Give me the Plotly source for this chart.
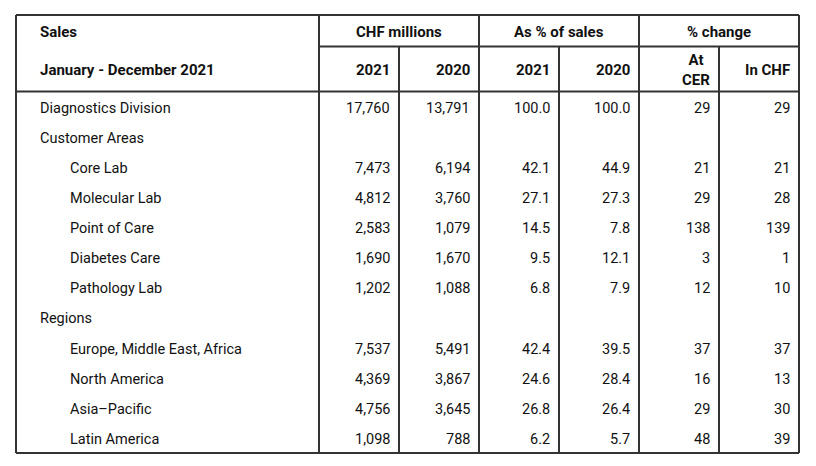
import plotly.graph_objects as go

# ---- data ----
row_labels = ["Diagnostics Division", "Customer Areas", "Core Lab", "Molecular Lab",
              "Point of Care", "Diabetes Care", "Pathology Lab", "Regions",
              "Europe, Middle East, Africa", "North America", "Asia–Pacific", "Latin America"]
row_indent = [0, 0, 1, 1, 1, 1, 1, 0, 1, 1, 1, 1]
chf_2021 = ["17,760", "", "7,473", "4,812", "2,583", "1,690", "1,202", "", "7,537", "4,369", "4,756", "1,098"]
chf_2020 = ["13,791", "", "6,194", "3,760", "1,079", "1,670", "1,088", "", "5,491", "3,867", "3,645", "788"]
pct_2021 = ["100.0", "", "42.1", "27.1", "14.5", "9.5", "6.8", "", "42.4", "24.6", "26.8", "6.2"]
pct_2020 = ["100.0", "", "44.9", "27.3", "7.8", "12.1", "7.9", "", "39.5", "28.4", "26.4", "5.7"]
chg_cer = ["29", "", "21", "29", "138", "3", "12", "", "37", "16", "29", "48"]
chg_chf = ["29", "", "21", "28", "139", "1", "10", "", "37", "13", "30", "39"]

group_headers = ["CHF millions", "As % of sales", "% change"]
sub_headers = ["2021", "2020", "2021", "2020", "At<br>CER", "In CHF"]
title_top = "Sales"
title_sub = "January - December 2021"

# ---- layout geometry (page pixel coordinates) ----
PAGE_W, PAGE_H = 816, 466
OFF = 8  # default body margin of the page
left, right, top, bottom = 16, 799, 15, 453
col_edges = [319, 399, 479, 559, 639, 719, 799]
hdr_mid = 46.5
hdr_bot = 91.5
row_h = (bottom - hdr_bot) / len(row_labels)

FONT = "Roboto, 'Noto Sans', Arial, sans-serif"
TXT = "#111111"
LINE = "#333333"

fig = go.Figure()
fig.add_trace(go.Scatter(x=[OFF, PAGE_W], y=[OFF, PAGE_H], mode="markers",
                         marker=dict(opacity=0), hoverinfo="skip", showlegend=False))

shapes = []
def line(x0, y0, x1, y1, w=2):
    shapes.append(dict(type="line", x0=x0, y0=y0, x1=x1, y1=y1,
                       line=dict(color=LINE, width=w), xref="x", yref="y"))

# outer border
line(left, top, right, top)
line(left, bottom, right, bottom)
line(left, top, left, bottom)
line(right, top, right, bottom)
# header lines
line(col_edges[0], hdr_mid, right, hdr_mid)
line(left, hdr_bot, right, hdr_bot)
# vertical lines
for i, x in enumerate(col_edges[:-1]):
    if i % 2 == 0:
        line(x, top, x, bottom)
    else:
        line(x, hdr_mid, x, bottom)

ann = []
def text(x, y, s, anchor="left", bold=False, size=14.5):
    ann.append(dict(x=x, y=y, text=f"<b>{s}</b>" if bold else s, showarrow=False,
                    xanchor=anchor, yanchor="middle", xref="x", yref="y",
                    font=dict(family=FONT, size=size, color=TXT)))

LX = 38      # label left edge (compensating annotation padding)
RPAD = 7     # right padding of numbers in each column

text(LX, 31.5, title_top, bold=True, size=15)
text(LX, 69.5, title_sub, bold=True, size=15)
for g, h in enumerate(group_headers):
    cx = (col_edges[2 * g] + col_edges[2 * g + 2]) / 2
    text(cx, 31.5, h, anchor="center", bold=True, size=15)
for c, h in enumerate(sub_headers):
    text(col_edges[c + 1] - RPAD, 69.5, h, anchor="right", bold=True, size=15)

cols = [chf_2021, chf_2020, pct_2021, pct_2020, chg_cer, chg_chf]
for r, lab in enumerate(row_labels):
    y = hdr_bot + row_h * (r + 0.5) + 1.5
    text(LX + 30 * row_indent[r], y, lab)
    for c, vals in enumerate(cols):
        if vals[r]:
            text(col_edges[c + 1] - RPAD, y, vals[r], anchor="right")

fig.update_layout(
    width=PAGE_W - OFF, height=PAGE_H - OFF, margin=dict(l=0, r=0, t=0, b=0),
    paper_bgcolor="white", plot_bgcolor="white",
    xaxis=dict(range=[OFF, PAGE_W], visible=False, fixedrange=True),
    yaxis=dict(range=[PAGE_H, OFF], visible=False, fixedrange=True),
    shapes=shapes, annotations=ann, showlegend=False,
)
fig.write_html("out.html")
